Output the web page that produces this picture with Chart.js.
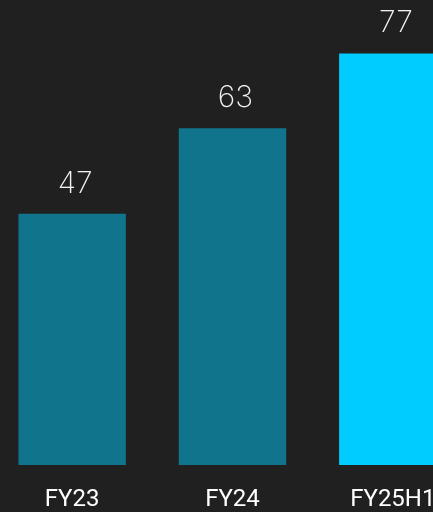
<!DOCTYPE html>
<html>
<head>
<meta charset="utf-8">
<script src="https://cdn.jsdelivr.net/npm/chart.js@4"></script>
<style>
  html, body { margin: 0; padding: 0; background: #202020; overflow: hidden; }
  #wrap { position: relative; width: 433px; height: 512px; overflow: hidden; }
  #chart { position: absolute; left: -8px; top: 0; }
</style>
</head>
<body>
<div id="wrap"><canvas id="chart" width="481" height="512"></canvas></div>
<script>
const years = ["FY23", "FY24", "FY25H1"];
const values = [47, 63, 77];
const barColors = ["#10748c", "#10748c", "#00ccff"];

// value above each bar, thin type
const topLabels = {
  id: "topLabels",
  afterDatasetsDraw(chart) {
    const ctx = chart.ctx;
    const meta = chart.getDatasetMeta(0);
    ctx.save();
    ctx.font = "200 30px Inter, 'Noto Sans', sans-serif";
    ctx.fillStyle = "#f2f2f2";
    ctx.textAlign = "center";
    ctx.textBaseline = "alphabetic";
    meta.data.forEach((bar, i) => {
      ctx.fillText(values[i], bar.x + 3, bar.y - 21);
    });
    ctx.restore();
  }
};

new Chart(document.getElementById("chart"), {
  type: "bar",
  data: {
    labels: years,
    datasets: [{
      data: values,
      backgroundColor: barColors,
      borderWidth: 0,
      categoryPercentage: 1,
      barPercentage: 0.67
    }]
  },
  options: {
    responsive: false,
    animation: false,
    layout: { padding: 0 },
    plugins: { legend: { display: false }, tooltip: { enabled: false } },
    scales: {
      y: { display: false, min: 0, max: 87 },
      x: {
        grid: { display: false, drawTicks: false },
        border: { display: false },
        afterFit(scale) { scale.height = 47; },
        ticks: {
          color: "#ffffff",
          padding: 21,
          font: { family: "Roboto, 'Liberation Sans', sans-serif", size: 24 }
        }
      }
    }
  },
  plugins: [topLabels]
});
</script>
</body>
</html>
